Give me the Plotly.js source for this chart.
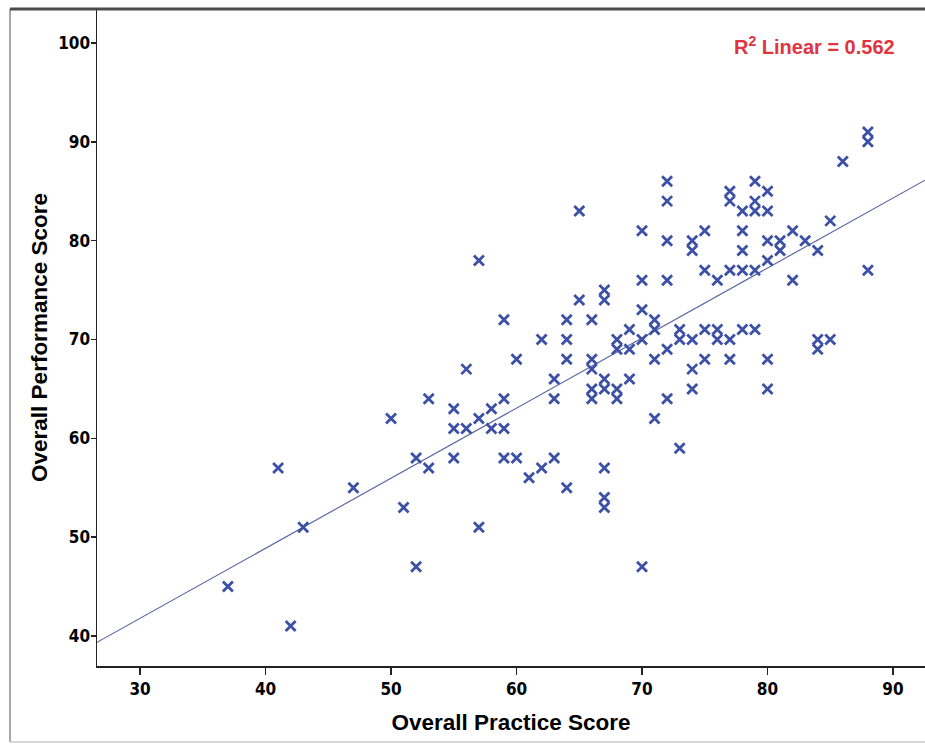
<!DOCTYPE html>
<html>
<head>
<meta charset="utf-8">
<script src="https://cdn.plot.ly/plotly-3.0.1.min.js"></script>
<style>
  html, body { margin: 0; padding: 0; background: #ffffff; }
  #chart { width: 925px; height: 744px; }
</style>
</head>
<body>
<div id="chart"></div>
<script>
// Overall practice score (x) and overall performance score (y), one entry per student
const practiceScore = [
  37, 41, 42, 43, 47, 50, 51, 52, 52, 53, 53, 55, 55, 55, 56, 56, 57, 57, 57, 58,
  58, 59, 59, 59, 59, 60, 60, 61, 62, 62, 63, 63, 63, 64, 64, 64, 64, 65, 65, 66,
  66, 66, 66, 66, 67, 67, 67, 67, 67, 67, 67, 68, 68, 68, 68, 69, 69, 69, 70, 70,
  70, 70, 70, 71, 71, 71, 71, 72, 72, 72, 72, 72, 72, 73, 73, 73, 74, 74, 74, 74,
  74, 75, 75, 75, 75, 76, 76, 76, 77, 77, 77, 77, 77, 78, 78, 78, 78, 78, 79, 79,
  79, 79, 79, 80, 80, 80, 80, 80, 80, 81, 81, 82, 82, 83, 84, 84, 84, 85, 85, 86,
  88, 88, 88
];
const performanceScore = [
  45, 57, 41, 51, 55, 62, 53, 58, 47, 64, 57, 63, 61, 58, 61, 67, 78, 62, 51, 63,
  61, 72, 64, 61, 58, 68, 58, 56, 57, 70, 66, 64, 58, 55, 72, 70, 68, 74, 83, 72,
  68, 67, 65, 64, 75, 74, 66, 65, 57, 54, 53, 70, 69, 65, 64, 71, 69, 66, 81, 76,
  73, 70, 47, 72, 71, 68, 62, 86, 84, 80, 76, 69, 64, 71, 70, 59, 80, 79, 70, 67,
  65, 81, 77, 71, 68, 76, 71, 70, 85, 84, 77, 70, 68, 83, 81, 79, 77, 71, 86, 84,
  83, 77, 71, 85, 83, 80, 78, 68, 65, 80, 79, 81, 76, 80, 79, 70, 69, 82, 70, 88,
  91, 90, 77
];

// Axis tick values and visible axis ranges
const xTicks = [30, 40, 50, 60, 70, 80, 90];
const yTicks = [40, 50, 60, 70, 80, 90, 100];
const xRange = [26.57, 92.55];
const yRange = [36.96, 103.44];

const fitLabel = 'R<sup>2</sup> Linear = 0.562';

// Ordinary least-squares fit of performance on practice
function linearFit(xs, ys) {
  const n = xs.length;
  let sx = 0, sy = 0;
  for (let i = 0; i < n; i++) { sx += xs[i]; sy += ys[i]; }
  const mx = sx / n, my = sy / n;
  let sxy = 0, sxx = 0;
  for (let i = 0; i < n; i++) {
    sxy += (xs[i] - mx) * (ys[i] - my);
    sxx += (xs[i] - mx) * (xs[i] - mx);
  }
  const slope = sxy / sxx;
  return { slope: slope, intercept: my - slope * mx };
}
const fit = linearFit(practiceScore, performanceScore);
const fitX = [xRange[0], xRange[1]];
const fitY = fitX.map(v => fit.intercept + fit.slope * v);

const W = 925, H = 744;
const margin = { l: 97, r: 0, t: 9, b: 78 };
const plotW = W - margin.l - margin.r;
const plotH = H - margin.t - margin.b;
// convert page pixels to paper coordinates for the outer frame
const px = v => (v - margin.l) / plotW;
const py = v => (H - margin.b - v) / plotH;

const tickFont = { family: 'Liberation Sans Narrow, Arial Narrow, DejaVu Sans Condensed, Liberation Sans, sans-serif', size: 17, color: '#000000', weight: 'bold' };
const titleFont = { family: 'Liberation Sans, Arial, sans-serif', size: 22.5, color: '#000000', weight: 'bold' };

const traces = [
  {
    type: 'scatter',
    mode: 'lines',
    x: fitX,
    y: fitY,
    line: { color: '#5d6aa3', width: 1.2 },
    hoverinfo: 'skip',
    showlegend: false
  },
  {
    type: 'scatter',
    mode: 'markers',
    x: practiceScore,
    y: performanceScore,
    marker: {
      symbol: 'x-thin-open',
      size: 10,
      color: '#3c50a6',
      line: { color: '#3c50a6', width: 2.8 }
    },
    showlegend: false
  }
];

const layout = {
  width: W,
  height: H,
  margin: margin,
  paper_bgcolor: '#ffffff',
  plot_bgcolor: '#ffffff',
  showlegend: false,
  xaxis: {
    range: xRange,
    tickvals: xTicks,
    ticktext: xTicks.map(String),
    ticks: 'outside',
    ticklen: 7,
    tickwidth: 1.5,
    tickcolor: '#222222',
    showline: true,
    linecolor: '#222222',
    linewidth: 1.5,
    showgrid: false,
    zeroline: false,
    tickfont: tickFont,
    title: { text: 'Overall Practice Score', font: titleFont, standoff: 16 },
    automargin: false
  },
  yaxis: {
    range: yRange,
    tickvals: yTicks,
    ticktext: yTicks.map(String),
    ticks: 'outside',
    ticklen: 5,
    tickwidth: 1.5,
    tickcolor: '#222222',
    showline: true,
    linecolor: '#222222',
    linewidth: 1.5,
    showgrid: false,
    zeroline: false,
    tickfont: tickFont,
    ticklabelstandoff: -3,
    title: { text: 'Overall Performance Score', font: titleFont, standoff: 4 },
    automargin: false
  },
  shapes: [
    // outer chart frame
    { type: 'line', xref: 'paper', yref: 'paper', x0: px(10), x1: px(10), y0: py(9), y1: py(742),
      line: { color: '#8a8a8a', width: 1.5 } },
    { type: 'line', xref: 'paper', yref: 'paper', x0: px(10), x1: px(925), y0: py(742), y1: py(742),
      line: { color: '#c8c8c8', width: 1.5 } },
    { type: 'line', xref: 'paper', yref: 'paper', x0: px(10), x1: px(925), y0: py(9), y1: py(9),
      line: { color: '#4a4a4a', width: 3 } }
  ],
  annotations: [
    {
      xref: 'paper', yref: 'paper',
      x: px(897), y: py(45),
      xanchor: 'right', yanchor: 'middle',
      text: fitLabel,
      showarrow: false,
      font: { family: 'Liberation Sans, Arial, sans-serif', size: 20, color: '#e0343f', weight: 'bold' }
    }
  ]
};

Plotly.newPlot('chart', traces, layout, { displayModeBar: false, staticPlot: true });
</script>
</body>
</html>
